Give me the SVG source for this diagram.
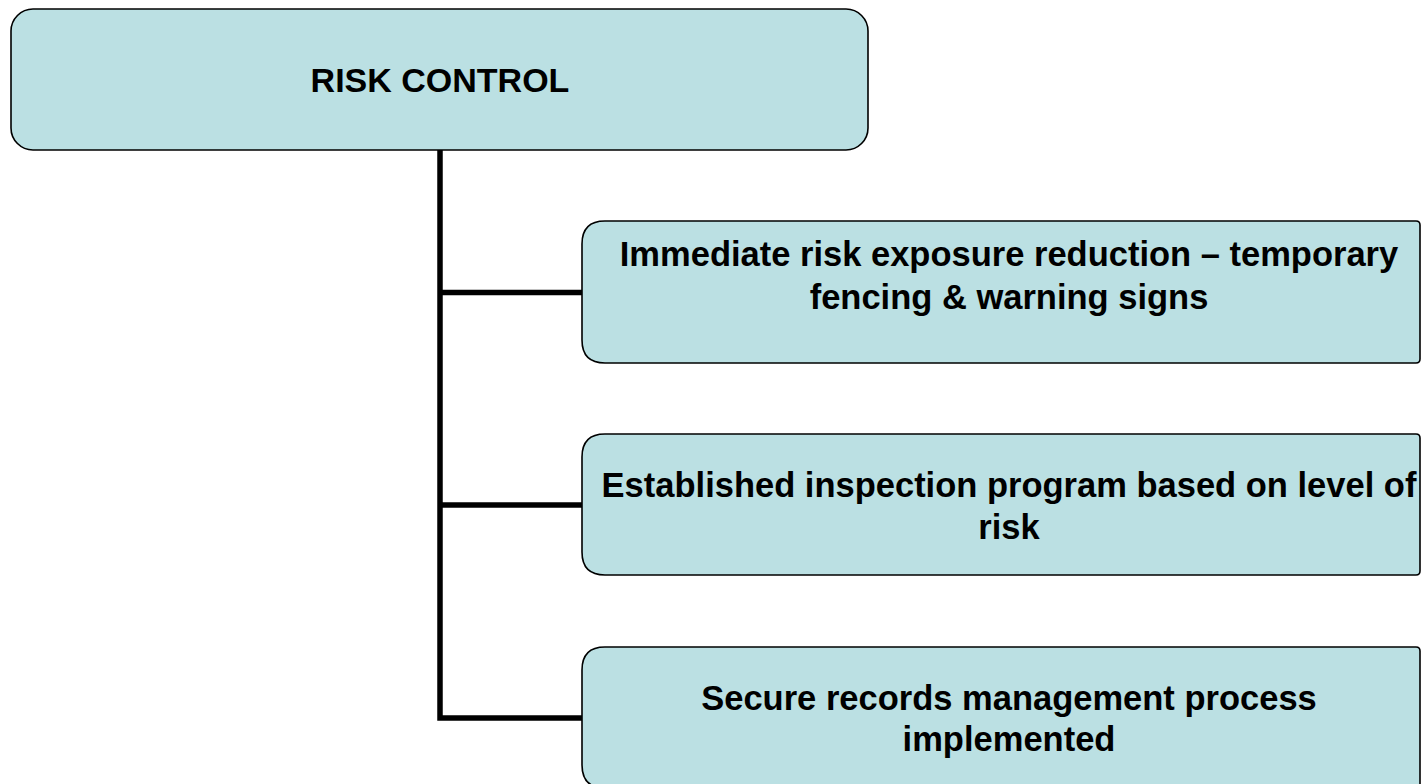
<svg xmlns="http://www.w3.org/2000/svg" width="1421" height="784" viewBox="0 0 1421 784">
  <style>
    .box { fill: #BBE0E3; stroke: #000; stroke-width: 1.6; }
    .lbl { font-family: "Liberation Sans", Arial, sans-serif; font-weight: bold; font-size: 34.5px; fill: #000; text-anchor: middle; }
    .title { font-size: 34px; }
    .conn { fill: none; stroke: #000; stroke-width: 5.5; stroke-linejoin: miter; stroke-linecap: butt; }
  </style>
  <rect x="0" y="0" width="1421" height="784" fill="#fff"/>
  <g id="connectors">
    <path class="conn" d="M440,150 V718 H582"/>
    <path class="conn" d="M440,292.5 H582"/>
    <path class="conn" d="M440,505 H582"/>
  </g>
  <g id="node-root">
    <rect class="box" x="11" y="9" width="857" height="141" rx="22" ry="22"/>
    <text class="lbl title" x="440" y="92">RISK CONTROL</text>
  </g>
  <g id="node-1">
    <path class="box" d="M605,221 H1416 Q1420,221 1420,225 V359 Q1420,363 1416,363 H605 Q582,363 582,340 V244 Q582,221 605,221 Z"/>
    <text class="lbl" x="1009" y="266">Immediate risk exposure reduction – temporary</text>
    <text class="lbl" x="1009" y="309">fencing &amp; warning signs</text>
  </g>
  <g id="node-2">
    <path class="box" d="M605,434 H1416 Q1420,434 1420,438 V571 Q1420,575 1416,575 H605 Q582,575 582,552 V457 Q582,434 605,434 Z"/>
    <text class="lbl" x="1009" y="497">Established inspection program based on level of</text>
    <text class="lbl" x="1009" y="539">risk</text>
  </g>
  <g id="node-3">
    <path class="box" d="M605,647 H1416 Q1420,647 1420,651 V784 Q1420,788 1416,788 H605 Q582,788 582,765 V670 Q582,647 605,647 Z"/>
    <text class="lbl" x="1009" y="710">Secure records management process</text>
    <text class="lbl" x="1009" y="751">implemented</text>
  </g>
</svg>
